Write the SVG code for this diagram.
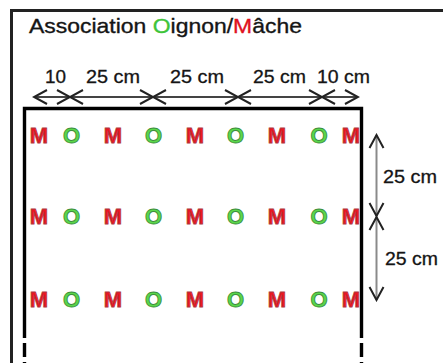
<svg xmlns="http://www.w3.org/2000/svg" width="443" height="363" viewBox="0 0 443 363">
  <style>
    .title { font-family: "Liberation Sans", Arial, sans-serif; font-size: 21px; fill: #151515; stroke: #151515; stroke-width: 0.35; }
    .dim { font-family: "Liberation Sans", Arial, sans-serif; font-size: 18px; fill: #151515; stroke: #151515; stroke-width: 0.3; }
    .m { font-family: "Liberation Sans", Arial, sans-serif; font-size: 22px; font-weight: bold; fill: #ee1520; stroke: #b03840; stroke-width: 0.9; text-anchor: middle; }
    .o { font-family: "Liberation Sans", Arial, sans-serif; font-size: 22px; font-weight: bold; fill: #5ad84a; stroke: #3d8f3d; stroke-width: 0.9; text-anchor: middle; }
    .frame { fill: none; stroke: #222; stroke-width: 3; }
    .bed { fill: none; stroke: #000; stroke-width: 3.4; }
    .hdim { stroke: #444; stroke-width: 2; fill: none; marker-start: url(#chev); marker-end: url(#chev); }
    .vdim { stroke: #8a8a8a; stroke-width: 2; fill: none; marker-start: url(#chev); marker-end: url(#chev); }
  </style>
  <defs>
    <marker id="chev" viewBox="-15 -9 17 18" refX="0" refY="0" markerWidth="17" markerHeight="18" markerUnits="userSpaceOnUse" orient="auto-start-reverse">
      <path d="M -13,-7 L 0,0 L -13,7" fill="none" stroke="#222" stroke-width="2"/>
    </marker>
  </defs>
  <rect width="443" height="363" fill="#fff"/>

  <g id="frame">
    <path class="frame" d="M 11.5,363 L 11.5,10.5 L 443,10.5"/>
  </g>

  <g id="title">
    <text class="title" x="29" y="33" textLength="273" lengthAdjust="spacingAndGlyphs">Association <tspan fill="#3fc43a" stroke="#3fc43a">O</tspan>ignon/<tspan fill="#e01020" stroke="#e01020">M</tspan>âche</text>
  </g>

  <g id="bed">
    <path class="bed" d="M 24.5,338 L 24.5,108.5 L 361.5,108.5 L 361.5,338"/>
    <path class="bed" d="M 24.5,343 L 24.5,357 M 24.5,362 L 24.5,370 M 361.5,343 L 361.5,357 M 361.5,362 L 361.5,370"/>
  </g>

  <g id="connectors">
    <line class="hdim" x1="34" y1="97" x2="70" y2="97"/>
    <line class="hdim" x1="70" y1="97" x2="153" y2="97"/>
    <line class="hdim" x1="153" y1="97" x2="238" y2="97"/>
    <line class="hdim" x1="238" y1="97" x2="322" y2="97"/>
    <line class="hdim" x1="322" y1="97" x2="358" y2="97"/>
    <line class="vdim" x1="376.5" y1="135" x2="376.5" y2="216"/>
    <line class="vdim" x1="376.5" y1="217" x2="376.5" y2="300"/>
  </g>

  <g id="dim-labels">
    <text class="dim" x="45" y="83" textLength="21" lengthAdjust="spacingAndGlyphs">10</text>
    <text class="dim" x="86" y="83" textLength="54" lengthAdjust="spacingAndGlyphs">25 cm</text>
    <text class="dim" x="170" y="83" textLength="54" lengthAdjust="spacingAndGlyphs">25 cm</text>
    <text class="dim" x="253" y="83" textLength="53" lengthAdjust="spacingAndGlyphs">25 cm</text>
    <text class="dim" x="317" y="83" textLength="53" lengthAdjust="spacingAndGlyphs">10 cm</text>
    <text class="dim" x="383" y="183" textLength="54" lengthAdjust="spacingAndGlyphs">25 cm</text>
    <text class="dim" x="385" y="265" textLength="53" lengthAdjust="spacingAndGlyphs">25 cm</text>
  </g>

  <g id="row1">
    <text class="m" x="39" y="143">M</text>
    <text class="o" x="71.5" y="143">O</text>
    <text class="m" x="113" y="143">M</text>
    <text class="o" x="153.5" y="143">O</text>
    <text class="m" x="195" y="143">M</text>
    <text class="o" x="235.5" y="143">O</text>
    <text class="m" x="277" y="143">M</text>
    <text class="o" x="319" y="143">O</text>
    <text class="m" x="351" y="143">M</text>
  </g>
  <g id="row2">
    <text class="m" x="39" y="224">M</text>
    <text class="o" x="71.5" y="224">O</text>
    <text class="m" x="113" y="224">M</text>
    <text class="o" x="153.5" y="224">O</text>
    <text class="m" x="195" y="224">M</text>
    <text class="o" x="235.5" y="224">O</text>
    <text class="m" x="277" y="224">M</text>
    <text class="o" x="319" y="224">O</text>
    <text class="m" x="351" y="224">M</text>
  </g>
  <g id="row3">
    <text class="m" x="39" y="306.5">M</text>
    <text class="o" x="71.5" y="306.5">O</text>
    <text class="m" x="113" y="306.5">M</text>
    <text class="o" x="153.5" y="306.5">O</text>
    <text class="m" x="195" y="306.5">M</text>
    <text class="o" x="235.5" y="306.5">O</text>
    <text class="m" x="277" y="306.5">M</text>
    <text class="o" x="319" y="306.5">O</text>
    <text class="m" x="351" y="306.5">M</text>
  </g>
</svg>
